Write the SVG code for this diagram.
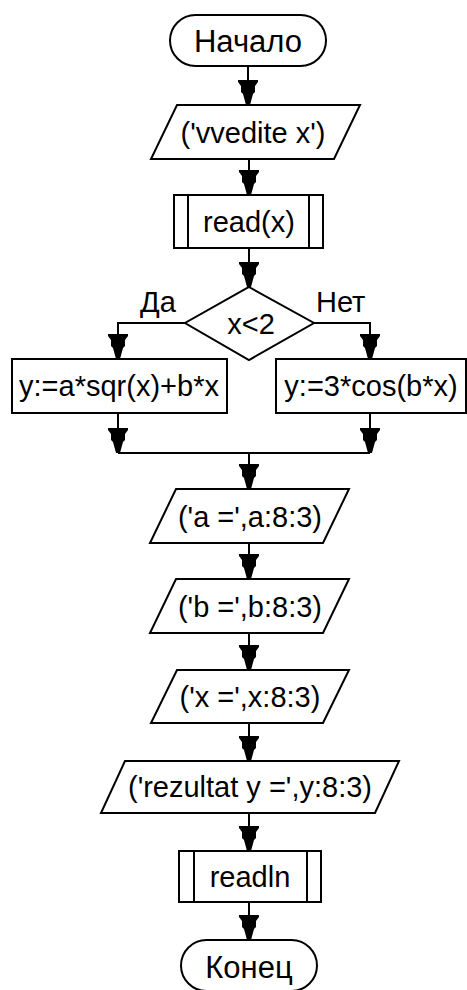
<svg xmlns="http://www.w3.org/2000/svg" xmlns:xlink="http://www.w3.org/1999/xlink" width="467" height="990" viewBox="0 0 467 990">
<style>
.s{fill:#fff;stroke:#000;stroke-width:2}
.c{fill:none;stroke:#000;stroke-width:2}
.t{font-family:"Liberation Sans",Arial,sans-serif;font-size:29px;fill:#000;text-anchor:middle}
.tl{font-family:"Liberation Sans",Arial,sans-serif;font-size:29px;fill:#000}
</style>
<defs>
<path id="ah" d="M-10,-25 H10 V-23 L7,-19 V-13 L5,-11 L2,0 H-2 L-5,-11 L-7,-13 V-19 L-10,-23 Z" fill="#000"/>
</defs>
<rect width="467" height="990" fill="#fff"/>
<g id="connectors">
<path class="c" d="M248,66 V105 M249,159 V195 M249,248 V287 M185,323 H118 V359 M314,323 H370 V359 M118,413 V453 M370,413 V453 M118,453 H370 M249,453 V489 M249,543 V579 M249,633 V670 M249,723 V761 M249,813 V851 M249,902 V940"/>
<use xlink:href="#ah" x="248" y="105"/>
<use xlink:href="#ah" x="249" y="195"/>
<use xlink:href="#ah" x="249" y="287"/>
<use xlink:href="#ah" x="118" y="359"/>
<use xlink:href="#ah" x="370" y="359"/>
<use xlink:href="#ah" x="118" y="453"/>
<use xlink:href="#ah" x="370" y="453"/>
<use xlink:href="#ah" x="249" y="489"/>
<use xlink:href="#ah" x="249" y="579"/>
<use xlink:href="#ah" x="249" y="670"/>
<use xlink:href="#ah" x="249" y="761"/>
<use xlink:href="#ah" x="249" y="851"/>
<use xlink:href="#ah" x="249" y="940"/>
<text class="tl" x="140" y="312">Да</text>
<text class="tl" x="316" y="312">Нет</text>
</g>
<g id="start">
<rect class="s" x="170" y="15" width="156" height="51" rx="25.5"/>
<text class="t" x="248" y="52" style="font-size:31px">Начало</text>
</g>
<g id="input1">
<polygon class="s" points="177,105 360,105 334,159 151,159"/>
<text class="t" x="253" y="143">('vvedite x')</text>
</g>
<g id="read">
<rect class="s" x="174" y="195" width="149" height="53"/>
<path class="c" d="M188,195 V248 M309,195 V248"/>
<text class="t" x="249" y="232">read(x)</text>
</g>
<g id="cond">
<polygon class="s" points="249,287 314,323 249,360 185,323"/>
<text class="t" x="251" y="334">x&lt;2</text>
</g>
<g id="yes">
<rect class="s" x="12" y="359" width="215" height="54"/>
<text class="t" x="119" y="396">y:=a*sqr(x)+b*x</text>
</g>
<g id="no">
<rect class="s" x="276" y="359" width="190" height="54"/>
<text class="t" x="371" y="396">y:=3*cos(b*x)</text>
</g>
<g id="out_a">
<polygon class="s" points="176,489 349,489 323,543 150,543"/>
<text class="t" x="250" y="527">('a =',a:8:3)</text>
</g>
<g id="out_b">
<polygon class="s" points="176,579 349,579 323,633 150,633"/>
<text class="t" x="250" y="617">('b =',b:8:3)</text>
</g>
<g id="out_x">
<polygon class="s" points="177,670 349,670 323,723 151,723"/>
<text class="t" x="250" y="707">('x =',x:8:3)</text>
</g>
<g id="out_y">
<polygon class="s" points="125,761 399,761 375,813 101,813"/>
<text class="t" x="250" y="797">('rezultat y =',y:8:3)</text>
</g>
<g id="readln">
<rect class="s" x="179" y="851" width="142" height="51"/>
<path class="c" d="M194,851 V902 M307,851 V902"/>
<text class="t" x="250" y="887">readln</text>
</g>
<g id="end">
<rect class="s" x="181" y="940" width="136" height="51" rx="25.5"/>
<text class="t" x="249" y="978" style="font-size:31px">Конец</text>
</g>
</svg>
